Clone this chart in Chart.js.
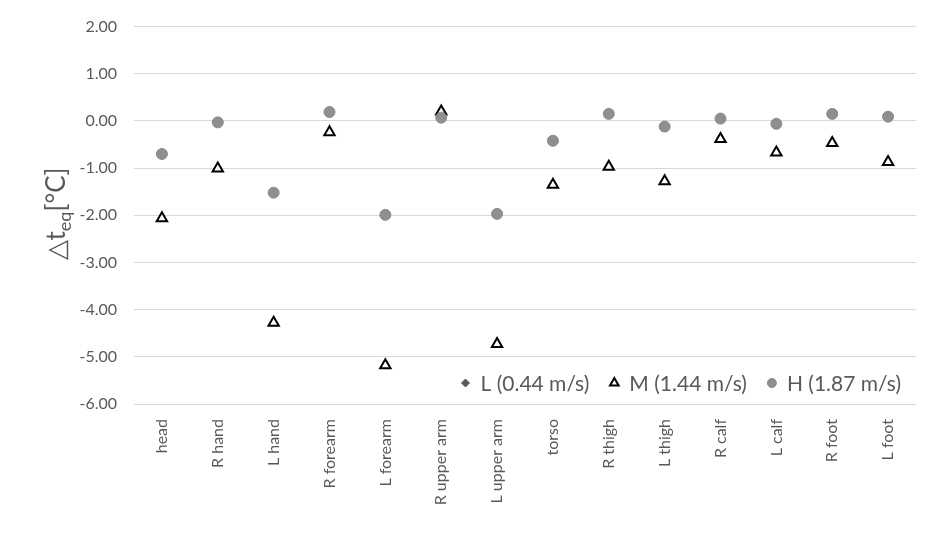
<!DOCTYPE html>
<html>
<head>
<meta charset="utf-8">
<script src="https://cdn.jsdelivr.net/npm/chart.js@4/dist/chart.umd.min.js"></script>
<style>
  html, body { margin: 0; padding: 0; background: #ffffff; }
  #wrap { width: 940px; height: 543px; position: relative; }
</style>
</head>
<body>
<div id="wrap"><canvas id="c" width="940" height="543"></canvas></div>
<script>
const categories = ["head", "R hand", "L hand", "R forearm", "L forearm", "R upper arm", "L upper arm", "torso", "R thigh", "L thigh", "R calf", "L calf", "R foot", "L foot"];
const seriesNames = ["L (0.44 m/s)", "M (1.44 m/s)", "H (1.87 m/s)"];
const valuesL = [null, null, null, null, null, null, null, null, null, null, null, null, null, null];
const valuesM = [-2.06, -1.01, -4.28, -0.24, -5.18, 0.20, -4.73, -1.35, -0.97, -1.28, -0.38, -0.67, -0.47, -0.87];
const valuesH = [-0.70, -0.03, -1.52, 0.19, -1.99, 0.07, -1.97, -0.42, 0.15, -0.12, 0.05, -0.06, 0.15, 0.09];
const yTicks = [2, 1, 0, -1, -2, -3, -4, -5, -6];

const FONT = "Lato, 'Open Sans', 'Liberation Sans', sans-serif";
const TXT = "#595959";

const yTitlePlugin = {
  id: "yTitle",
  afterDraw(chart) {
    const ctx = chart.ctx;
    ctx.save();
    ctx.translate(56, 214);
    ctx.rotate(-Math.PI / 2);
    ctx.fillStyle = TXT;
    ctx.textBaseline = "alphabetic";
    ctx.textAlign = "left";
    const big = "26px " + FONT;
    const small = "18px " + FONT;
    const parts = [
      { t: "\u25B3t", f: big, dy: 0 },
      { t: "eq", f: small, dy: 6 },
      { t: "[\u00B0C]", f: big, dy: 0 }
    ];
    let total = 0;
    parts.forEach(p => { ctx.font = p.f; p.w = ctx.measureText(p.t).width; total += p.w; });
    let x = -total / 2;
    parts.forEach(p => { ctx.font = p.f; ctx.fillText(p.t, x, 9 + p.dy); x += p.w; });
    ctx.restore();
  }
};

const legendPlugin = {
  id: "customLegend",
  afterDraw(chart) {
    const ctx = chart.ctx;
    ctx.save();
    ctx.font = "21px " + FONT;
    ctx.textBaseline = "middle";
    ctx.textAlign = "left";
    const y = 383;
    const markerToText = 15, textToMarker = 25;
    const widths = seriesNames.map(n => ctx.measureText(n).width);
    let total = 0;
    widths.forEach((w, i) => { total += markerToText + w + (i < widths.length - 1 ? textToMarker : 0); });
    let x = 901 - total;
    seriesNames.forEach((name, i) => {
      const ds = chart.data.datasets[i];
      ctx.save();
      ctx.fillStyle = ds.pointBackgroundColor;
      ctx.strokeStyle = ds.pointBorderColor;
      ctx.lineWidth = ds.legendBorder;
      Chart.helpers.drawPoint(ctx, { pointStyle: ds.pointStyle, radius: ds.legendRadius, borderWidth: ds.legendBorder, rotation: 0 }, x, y);
      ctx.restore();
      ctx.fillStyle = TXT;
      ctx.fillText(name, x + markerToText, y + 1);
      x += markerToText + widths[i] + textToMarker;
    });
    ctx.restore();
  }
};

new Chart(document.getElementById("c"), {
  type: "line",
  data: {
    labels: categories,
    datasets: [
      { label: seriesNames[0], data: valuesL, showLine: false, pointStyle: "rectRot", pointRadius: 5, pointBackgroundColor: "#595959", pointBorderColor: "#595959", pointBorderWidth: 1, legendRadius: 4, legendBorder: 1, order: 3 },
      { label: seriesNames[1], data: valuesM, showLine: false, pointStyle: "triangle", pointRadius: 6, pointBackgroundColor: "#ffffff", pointBorderColor: "#000000", pointBorderWidth: 2, legendRadius: 5, legendBorder: 2, order: 2 },
      { label: seriesNames[2], data: valuesH, showLine: false, pointStyle: "circle", pointRadius: 5.5, pointBackgroundColor: "#8f8f8f", pointBorderColor: "#8a8a8a", pointBorderWidth: 1, legendRadius: 4.5, legendBorder: 1, order: 1 }
    ]
  },
  options: {
    responsive: false,
    animation: false,
    layout: { padding: { top: 15, right: 24, bottom: 0, left: 0 } },
    plugins: { legend: { display: false }, tooltip: { enabled: false } },
    scales: {
      x: {
        offset: true,
        grid: { display: false },
        border: { display: false },
        ticks: { color: TXT, font: { family: FONT, size: 16 }, maxRotation: 90, minRotation: 90, padding: 7, autoSkip: false },
        afterFit(s) { s.height = 139; }
      },
      y: {
        min: -6, max: 2,
        afterBuildTicks(s) { s.ticks = yTicks.map(v => ({ value: v })); },
        grid: { color: "#d9d9d9", lineWidth: 1, drawTicks: false },
        border: { display: false },
        ticks: { color: TXT, font: { family: FONT, size: 16 }, padding: 17, callback: v => Number(v).toFixed(2) },
        afterFit(s) { s.width = 134; }
      }
    }
  },
  plugins: [yTitlePlugin, legendPlugin]
});
</script>
</body>
</html>
